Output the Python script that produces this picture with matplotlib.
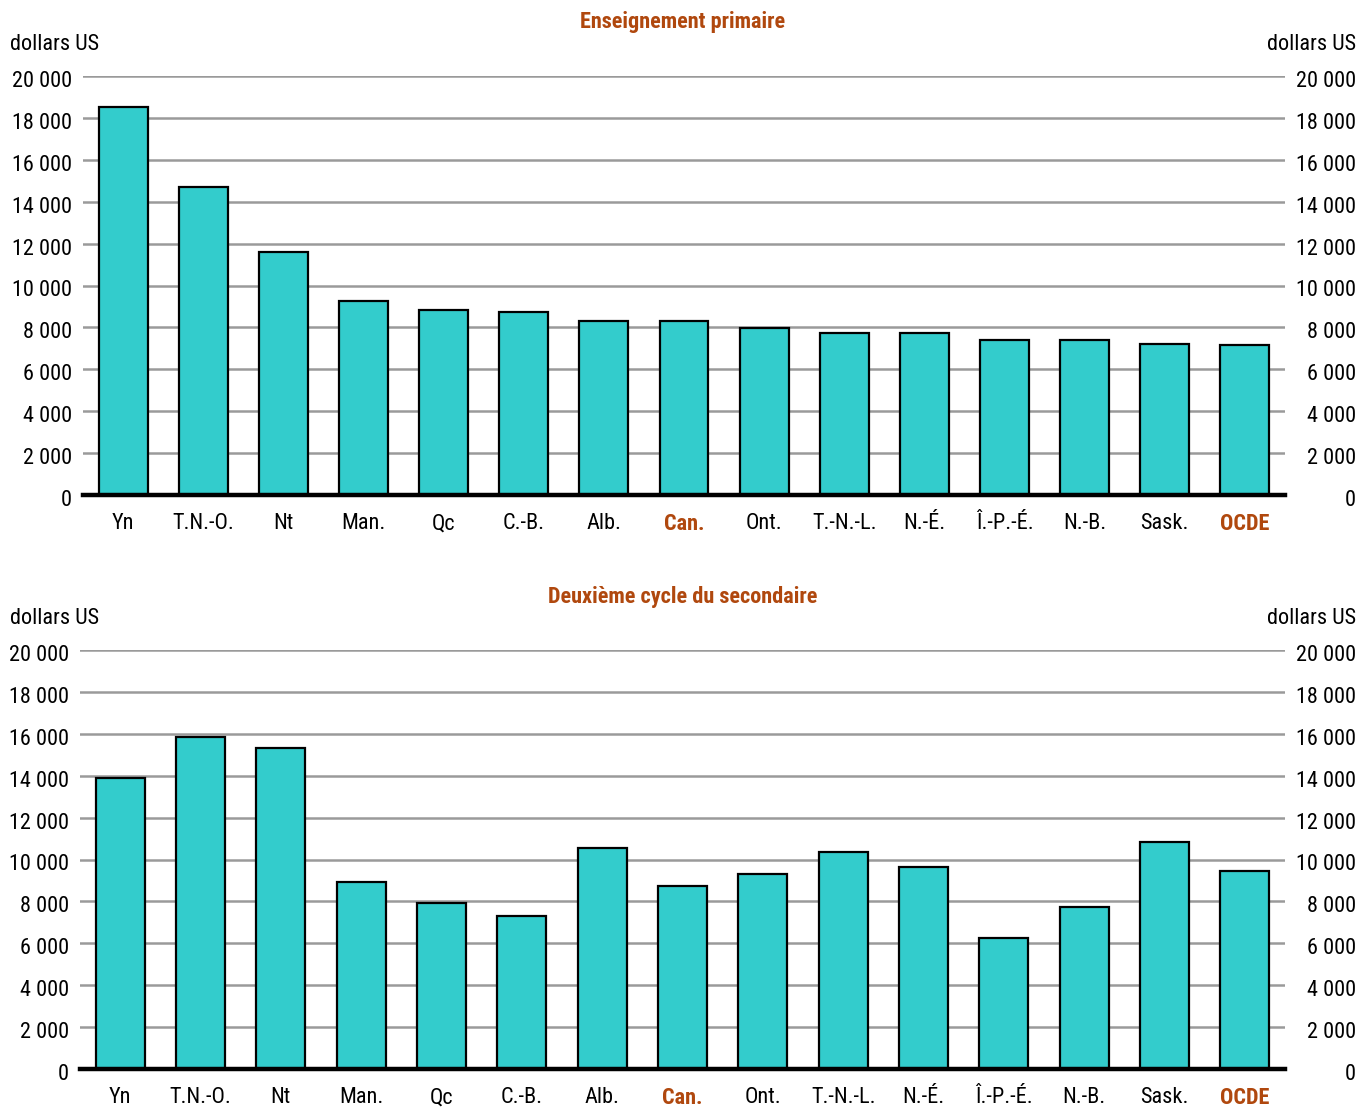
import matplotlib
matplotlib.use('Agg')
import matplotlib.pyplot as plt
import matplotlib.transforms as mtrans
from matplotlib import font_manager

# Données (dollars US par élève)
provinces = ['Yn', 'T.N.-O.', 'Nt', 'Man.', 'Qc', 'C.-B.', 'Alb.', 'Can.', 'Ont.',
             'T.-N.-L.', 'N.-É.', 'Î.-P.-É.', 'N.-B.', 'Sask.', 'OCDE']
primaire = [18500, 14700, 11600, 9250, 8850, 8750, 8300, 8300, 7980,
            7740, 7740, 7400, 7400, 7200, 7150]

provinces_sec = ['Yn', 'T.N.-O.', 'Nt', 'Man.', 'Qc', 'C.-B.', 'Alb.', 'Can.', 'Ont.',
                 'T.-N.-L.', 'N.-É.', 'Î.-P.-É.', 'N.-B.', 'Sask.', 'OCDE']
secondaire = [13900, 15850, 15300, 8930, 7900, 7320, 10550, 8750, 9330,
              10350, 9620, 6270, 7720, 10850, 9440]

yticks = [0, 2000, 4000, 6000, 8000, 10000, 12000, 14000, 16000, 18000, 20000]
ytick_labels = ['0', '2 000', '4 000', '6 000', '8 000', '10 000', '12 000',
                '14 000', '16 000', '18 000', '20 000']
titres = ['Enseignement primaire', 'Deuxième cycle du secondaire']

# Police condensée si disponible
noms = {f.name for f in font_manager.fontManager.ttflist}
police = 'Roboto'
for p in ['Liberation Sans Narrow', 'Roboto Condensed', 'Arial Narrow', 'Roboto']:
    if p in noms:
        police = p
        break
plt.rcParams['font.family'] = [police, 'DejaVu Sans']
fs = 16 if 'Narrow' in police or 'Condensed' in police else 15

turquoise = '#33CCCC'
brun = '#B0480E'
gris = '#9A9A9A'

fig = plt.figure(figsize=(13.72, 11.07), dpi=100)

W, H = 1372, 1107
panneaux = [
    # (gauche, haut 20000, bas 0, y titre, y dollars)
    (83, 76, 495, 22, 45, provinces, primaire),
    (80, 650, 1069, 597, 619, provinces_sec, secondaire),
]

for i, (x0, ytop, ybot, ytitle, ydol, cats, vals) in enumerate(panneaux):
    ax = fig.add_axes([x0 / W, 1 - ybot / H, (1285 - x0) / W, (ybot - ytop) / H])
    pos = list(range(len(cats)))
    ax.bar(pos, vals, width=0.61, color=turquoise, edgecolor='black',
           linewidth=1.6, zorder=3)
    ax.set_xlim(-0.5, len(cats) - 0.5)
    ax.set_ylim(0, 20000)
    ax.set_yticks(yticks)
    ax.set_yticklabels(ytick_labels)
    ax.yaxis.grid(True, color=gris, linewidth=1.8, zorder=0)
    ax.axhline(0, color='black', linewidth=3.2, zorder=4, clip_on=False)
    for s in ax.spines.values():
        s.set_visible(False)
    ax.tick_params(axis='y', length=0, labelsize=fs, pad=8,
                   labelleft=True, labelright=True)
    for t in ax.yaxis.get_major_ticks():
        t.label2.set_horizontalalignment('right')
    ax.set_xticks(pos)
    ax.set_xticklabels(cats)
    ax.tick_params(axis='x', length=0, labelsize=fs, pad=13)
    for lab in ax.get_xticklabels():
        if lab.get_text() in ('Can.', 'OCDE'):
            lab.set_color(brun)
            lab.set_fontweight('bold')

    fig.canvas.draw()
    # étiquettes de droite ancrées à x = 1356 px, légèrement abaissées
    off_r = mtrans.ScaledTranslation((1356 - 1285) / 100 - 8 / 72, -0.03, fig.dpi_scale_trans)
    off_l = mtrans.ScaledTranslation(0, -0.03, fig.dpi_scale_trans)
    for t in ax.yaxis.get_major_ticks():
        t.label2.set_transform(t.label2.get_transform() + off_r)
        t.label1.set_transform(t.label1.get_transform() + off_l)

    fig.text(683 / W, 1 - ytitle / H, titres[i], color=brun, fontsize=fs,
             fontweight='bold', ha='center', va='center')
    fig.text(10 / W, 1 - ydol / H, 'dollars US', fontsize=fs, ha='left', va='center')
    fig.text(1356 / W, 1 - ydol / H, 'dollars US', fontsize=fs, ha='right', va='center')

fig.savefig('out.png', dpi=100)
